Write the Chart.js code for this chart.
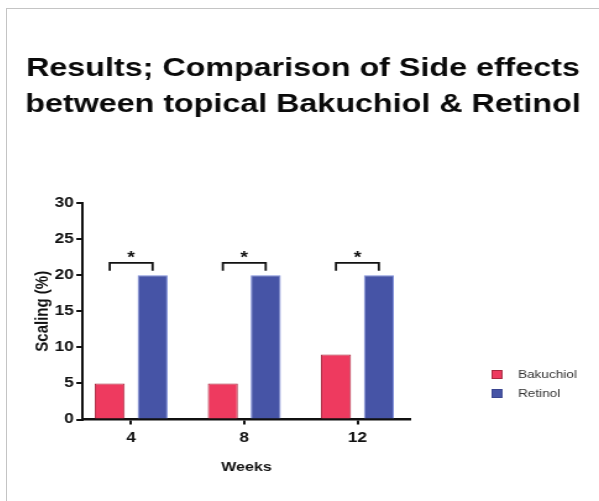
<!DOCTYPE html>
<html lang="en">
<head>
  <meta charset="UTF-8" />
  <title>Side effects: Bakuchiol vs Retinol</title>
  <script src="https://cdn.jsdelivr.net/npm/chart.js"></script>
  <style>
    html, body { margin: 0; padding: 0; background: #fff; overflow: hidden; }
    .frame {
      position: absolute; left: 6px; top: 8px; width: 600px; height: 500px;
      border-top: 1px solid #c4c4c4; border-left: 1px solid #c4c4c4;
    }
    /* the source picture is stretched sideways, so is this canvas */
    #chart {
      position: absolute; left: 0; top: 0; width: 479px; height: 492px;
      transform: scaleX(1.236); transform-origin: 0 0;
    }
  </style>
</head>
<body>
  <div class="frame">
    <canvas id="chart" width="479" height="492"></canvas>
  </div>

  <script>
    const titleLines = ['Results; Comparison of Side effects', 'between topical Bakuchiol & Retinol'];
    const weeks = [4, 8, 12];
    const bakuchiol = [5, 5, 9];
    const retinol = [20, 20, 20];
    const yTicks = [0, 5, 10, 15, 20, 25, 30];
    // significance brackets (y values on the Scaling axis)
    const sigMarks = ['*', '*', '*'];
    const bracketTop = [21.7, 21.7, 21.7];
    const bracketFoot = [20.6, 20.6, 20.6];
    const starY = [22.9, 22.9, 22.9];

    const FONT = "'Liberation Sans', Arial, sans-serif";
    const INK = '#111';
    const PINK = '#ee3a5f', BLUE = '#4654a6';
    const SIDE = 7.9; // outer padding left and right

    // legend swatch: small square on the left of a wider transparent box,
    // which leaves the wide gap before the label seen in the source
    function swatch(fill, edge) {
      const c = document.createElement('canvas');
      c.width = 16; c.height = 9;
      const g = c.getContext('2d');
      g.fillStyle = fill; g.fillRect(0, 0, 9, 9);
      g.strokeStyle = edge; g.lineWidth = 1; g.strokeRect(0.5, 0.5, 8, 8);
      return c;
    }

    const sigPlugin = {
      id: 'sig',
      afterDatasetsDraw(chart) {
        const { ctx } = chart;
        const y = chart.scales.y;
        const a = chart.getDatasetMeta(0).data;
        const b = chart.getDatasetMeta(1).data;
        ctx.save();
        ctx.strokeStyle = INK;
        ctx.fillStyle = INK;
        ctx.lineWidth = 1.8;
        ctx.font = 'bold 16px ' + FONT;
        ctx.textAlign = 'center';
        ctx.textBaseline = 'middle';
        sigMarks.forEach((m, i) => {
          const x1 = a[i].x, x2 = b[i].x;
          const yt = y.getPixelForValue(bracketTop[i]);
          const yf = y.getPixelForValue(bracketFoot[i]);
          ctx.beginPath();
          ctx.moveTo(x1, yf); ctx.lineTo(x1, yt); ctx.lineTo(x2, yt); ctx.lineTo(x2, yf);
          ctx.stroke();
          ctx.fillText(m, (x1 + x2) / 2, y.getPixelForValue(starY[i]) + 4.5);
        });
        ctx.restore();
      }
    };

    new Chart(document.getElementById('chart'), {
      type: 'bar',
      data: {
        datasets: [
          {
            label: 'Bakuchiol',
            data: weeks.map((w, i) => ({ x: w, y: bakuchiol[i] })),
            backgroundColor: PINK, borderColor: '#a8283f', borderWidth: 1,
            pointStyle: swatch(PINK, '#a8283f')
          },
          {
            label: 'Retinol',
            data: weeks.map((w, i) => ({ x: w, y: retinol[i] })),
            backgroundColor: BLUE, borderColor: '#7a8ad8', borderWidth: 1,
            pointStyle: swatch(BLUE, '#3a4590')
          }
        ]
      },
      options: {
        responsive: false,
        animation: false,
        categoryPercentage: 0.758,
        barPercentage: 0.70,
        layout: { padding: { left: SIDE, right: SIDE, bottom: 26 } },
        plugins: {
          title: {
            display: true, text: titleLines, color: '#0a0a0a',
            font: { family: FONT, size: 26.1, weight: 'bold', lineHeight: 1.35 },
            padding: { top: 42.5, bottom: 81 }
          },
          legend: {
            position: 'right', fullSize: false, align: 'center', maxWidth: 200,
            title: { display: true, text: '', padding: { top: 0, bottom: 131 } },
            labels: {
              usePointStyle: true, pointStyleWidth: 16, boxHeight: 9, padding: 8,
              color: '#333', font: { family: FONT, size: 11 }
            }
          },
          tooltip: { enabled: false }
        },
        scales: {
          x: {
            type: 'linear', min: 2.28, max: 13.87, offset: false,
            afterBuildTicks: s => { s.ticks = weeks.map(v => ({ value: v })); },
            grid: { offset: false, drawOnChartArea: false, tickLength: 5, color: INK, lineWidth: 2 },
            border: { color: INK, width: 2.5 },
            ticks: { color: INK, padding: 5, font: { family: FONT, size: 14, weight: 'bold' } },
            title: {
              display: true, text: 'Weeks', color: INK,
              font: { family: FONT, size: 13, weight: 'bold' }, padding: { top: 8, bottom: 0 }
            }
          },
          y: {
            min: 0, max: 30,
            afterBuildTicks: s => { s.ticks = yTicks.map(v => ({ value: v })); },
            grid: { drawOnChartArea: false, tickLength: 5, color: INK, lineWidth: 2 },
            border: { color: INK, width: 2 },
            ticks: { color: INK, padding: 2, font: { family: FONT, size: 14, weight: 'bold' } },
            title: {
              display: true, text: 'Scaling (%)', color: INK,
              font: { family: FONT, size: 15, weight: 'bold', lineHeight: 1 },
              padding: { top: 21.5 - SIDE, bottom: 0 }
            }
          },
          // empty spacer between the plot and the legend
          gap: {
            position: 'right', display: true,
            grid: { display: false }, border: { display: false }, ticks: { display: false },
            afterFit: s => { s.width = 57.6; }
          }
        }
      },
      plugins: [sigPlugin]
    });
  </script>
</body>
</html>
